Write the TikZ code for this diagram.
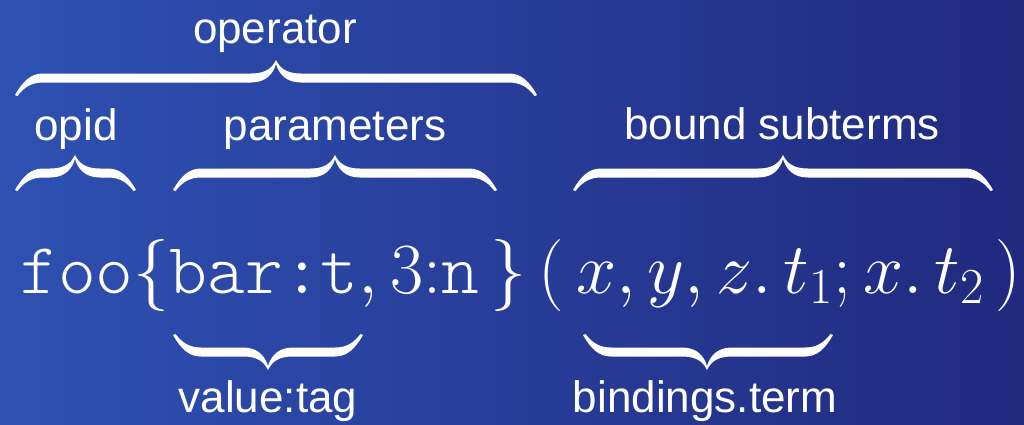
\RequirePackage{fix-cm}
\documentclass[tikz,border=0pt]{standalone}
\usepackage{fontspec}
\setmainfont{Liberation Sans}
\newfontfamily\ttlight{Latin Modern Mono Light}
\definecolor{bgleft}{RGB}{46,81,178}
\definecolor{bgright}{RGB}{33,41,127}
\tikzset{
  lbl/.style={text=white,font=\fontsize{44}{50}\selectfont,inner sep=0pt,anchor=base},
  brc/.style={fill=white}
}
\newcommand\tl[1]{{\ttlight #1}}
% brace in local coordinates: band centre at y=0, ends at y=+17, tip at y=-18
\newcommand\bracepath[3]{%
 \fill[brc] (#1,17) .. controls (#1+8,3) and (#1+16,-4.5) .. (#1+28,-4.5)
  -- (#3-25,-4.5) .. controls (#3-10,-4.5) and (#3-4,-10) .. (#3,-18)
  .. controls (#3+4,-10) and (#3+10,-4.5) .. (#3+25,-4.5)
  -- (#2-28,-4.5) .. controls (#2-16,-4.5) and (#2-8,3) .. (#2,17)
  -- (#2-2.5,18) .. controls (#2-10,8) and (#2-18,4.5) .. (#2-28,4.5)
  -- (#3+25,4.5) .. controls (#3+10,4.5) and (#3+3,-4) .. (#3,-14)
  .. controls (#3-3,-4) and (#3-10,4.5) .. (#3-25,4.5)
  -- (#1+28,4.5) .. controls (#1+18,4.5) and (#1+10,8) .. (#1+2.5,18) -- cycle;}
\begin{document}
\begin{tikzpicture}[x=1pt,y=-1pt]
\shade[left color=bgleft,right color=bgright] (0,0) rectangle (1024,424);
\useasboundingbox (0,0) rectangle (1024,424);
% main term
\node[text=white,inner sep=0pt,anchor=base west,font=\fontsize{72}{80}\selectfont] (term) at (20,293)
 {\tl{foo}$\{$\tl{bar:t}$,3{:}$\tl{n}$\,\}\,(\,x,y,z.\,t_1;x.\,t_2\,)$};
% upper braces
\begin{scope}[shift={(0,78)}]\bracepath{15}{537}{276}\end{scope}
\begin{scope}[shift={(0,173)}]
 \bracepath{15}{136}{75}
 \bracepath{173}{497}{335}
 \bracepath{573}{993}{783}
\end{scope}
% lower braces
\begin{scope}[shift={(0,352)},yscale=-1]
 \bracepath{173}{363}{268}
 \bracepath{583}{833}{707}
\end{scope}
% labels
\node[lbl] (operator) at (275,43) {operator};
\node[lbl] (opid) at (76,140) {opid};
\node[lbl] (params) at (335,140) {parameters};
\node[lbl] (bound) at (782,139) {bound subterms};
\node[lbl] (valtag) at (268,412) {value:tag};
\node[lbl] (bind) at (705,412) {bindings.term};
\end{tikzpicture}
\end{document}
